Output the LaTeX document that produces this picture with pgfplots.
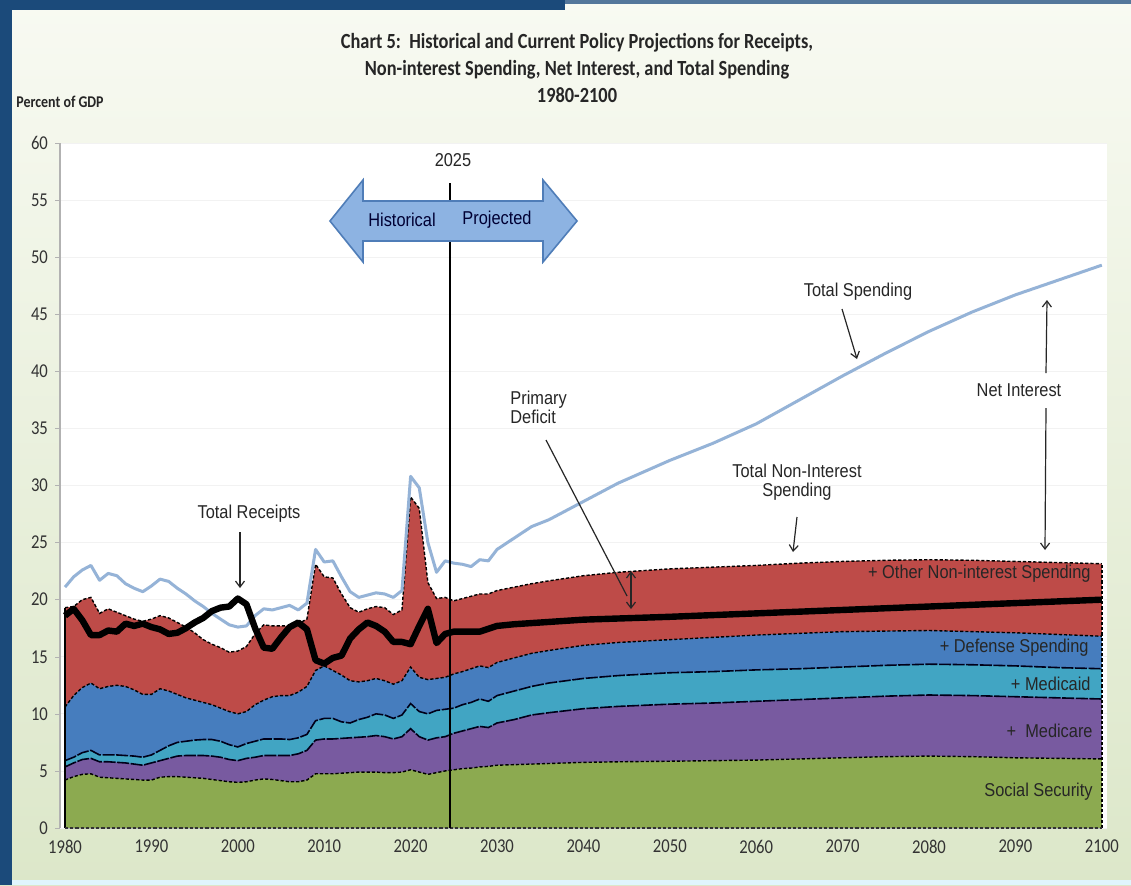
\documentclass[border=0pt]{standalone}
\usepackage{fontspec}
\setmainfont{Carlito}
\newfontfamily\calc[FakeStretch=0.85]{Carlito}
\newfontfamily\arc[FakeStretch=0.88]{Liberation Sans}
\usepackage{pgfplots}
\pgfplotsset{compat=1.18}
\usepackage{pgfplotstable}
\usetikzlibrary{arrows.meta}

\definecolor{cgreen}{HTML}{8CAA50}
\definecolor{cpurple}{HTML}{785AA0}
\definecolor{ccyan}{HTML}{41A5C3}
\definecolor{cblue}{HTML}{467DBE}
\definecolor{cred}{HTML}{BE4B48}
\definecolor{tsblue}{HTML}{95B3D7}
\definecolor{bgtop}{HTML}{F8FAF2}
\definecolor{bgbot}{HTML}{DCE7C9}
\definecolor{navy}{HTML}{1B4A7A}
\definecolor{arrfill}{HTML}{8DB3E2}
\definecolor{arrline}{HTML}{4F7DB8}
\definecolor{anno}{HTML}{262626}

% cumulative tops of the stacked areas, receipts, total spending (percent of GDP)
\pgfplotstableread{
year ss mc md df ot rc ts
1980 4.2 5.35 5.9 10.6 19.3 18.6 21.1
1981 4.5 5.7 6.2 11.6 19.4 19.2 22.0
1982 4.7 6.0 6.6 12.3 20.0 18.2 22.6
1983 4.75 6.1 6.8 12.7 20.2 16.9 23.0
1984 4.45 5.8 6.4 12.2 18.8 16.9 21.7
1985 4.4 5.8 6.4 12.4 19.2 17.3 22.3
1986 4.35 5.75 6.4 12.5 18.9 17.2 22.1
1987 4.3 5.7 6.35 12.4 18.6 17.9 21.4
1988 4.25 5.6 6.3 12.1 18.3 17.7 21.0
1989 4.2 5.5 6.2 11.7 18.1 17.9 20.7
1990 4.2 5.7 6.4 11.7 18.3 17.6 21.2
1991 4.45 5.9 6.8 12.2 18.6 17.4 21.8
1992 4.5 6.1 7.2 12.0 18.4 17.0 21.6
1993 4.5 6.3 7.5 11.7 18.0 17.1 21.0
1994 4.45 6.35 7.6 11.4 17.6 17.5 20.5
1995 4.4 6.35 7.7 11.2 17.1 18.0 19.9
1996 4.35 6.35 7.75 11.0 16.5 18.4 19.4
1997 4.25 6.3 7.75 10.8 16.1 19.0 18.8
1998 4.15 6.2 7.6 10.5 15.8 19.3 18.3
1999 4.05 6.0 7.3 10.2 15.4 19.4 17.8
2000 4.0 5.9 7.1 10.0 15.5 20.1 17.6
2001 4.05 6.1 7.4 10.2 15.9 19.6 17.7
2002 4.2 6.2 7.6 10.8 17.0 17.5 18.6
2003 4.3 6.35 7.8 11.2 17.8 15.8 19.2
2004 4.25 6.35 7.8 11.5 17.7 15.7 19.1
2005 4.15 6.35 7.8 11.6 17.7 16.7 19.3
2006 4.05 6.35 7.75 11.6 17.7 17.6 19.5
2007 4.05 6.5 7.9 11.9 17.9 18.0 19.1
2008 4.2 6.8 8.2 12.4 18.3 17.4 19.7
2009 4.75 7.7 9.4 13.8 23.1 14.7 24.4
2010 4.75 7.8 9.6 14.2 22.0 14.4 23.3
2011 4.75 7.8 9.6 13.8 21.9 14.9 23.4
2012 4.8 7.85 9.3 13.4 20.5 15.1 22.0
2013 4.85 7.9 9.2 12.9 19.3 16.6 20.7
2014 4.9 7.95 9.5 12.8 18.9 17.4 20.2
2015 4.9 8.0 9.7 12.9 19.2 18.0 20.4
2016 4.9 8.1 10.0 13.1 19.4 17.7 20.6
2017 4.85 8.0 9.9 12.9 19.3 17.2 20.5
2018 4.85 7.8 9.6 12.6 18.7 16.3 20.2
2019 4.9 8.0 9.9 12.9 19.1 16.3 20.8
2020 5.1 8.7 10.9 14.1 29.0 16.1 30.8
2021 4.9 8.0 10.2 13.2 28.0 17.7 29.8
2022 4.7 7.7 10.0 13.0 21.5 19.2 25.0
2023 4.85 7.9 10.3 13.1 20.1 16.2 22.4
2024 5.0 8.0 10.4 13.2 20.2 17.0 23.4
2025 5.1 8.3 10.5 13.5 19.9 17.2 23.2
2026 5.2 8.5 10.8 13.7 20.1 17.2 23.1
2027 5.25 8.7 11.0 13.95 20.3 17.2 22.9
2028 5.35 8.9 11.3 14.2 20.5 17.2 23.5
2029 5.4 8.8 11.1 14.05 20.5 17.45 23.4
2030 5.5 9.2 11.6 14.5 20.8 17.7 24.4
2032 5.55 9.5 12.0 14.9 21.1 17.85 25.4
2034 5.6 9.9 12.4 15.3 21.4 17.95 26.4
2036 5.65 10.1 12.7 15.55 21.65 18.05 27.0
2040 5.75 10.45 13.1 16.0 22.1 18.25 28.6
2044 5.8 10.65 13.35 16.25 22.4 18.35 30.2
2050 5.85 10.85 13.6 16.5 22.7 18.5 32.2
2055 5.9 10.95 13.7 16.7 22.85 18.65 33.7
2060 5.95 11.1 13.85 16.9 23.0 18.8 35.4
2065 6.05 11.25 13.95 17.05 23.2 18.95 37.5
2070 6.15 11.4 14.1 17.2 23.35 19.1 39.6
2075 6.25 11.55 14.25 17.25 23.45 19.25 41.6
2080 6.3 11.65 14.35 17.3 23.5 19.4 43.5
2085 6.25 11.6 14.3 17.2 23.45 19.55 45.2
2090 6.15 11.5 14.2 17.1 23.35 19.7 46.7
2095 6.1 11.4 14.05 16.95 23.25 19.85 48.0
2100 6.05 11.3 13.95 16.8 23.15 20.0 49.3
}\budget

\begin{document}
\begin{tikzpicture}
% background and titles, in pixel units from the top left
\begin{scope}[x=0.5pt,y=-0.5pt]
  \shade[top color=bgtop, bottom color=bgbot] (0,0) rectangle (1131,885);
  \fill[navy] (0,0) rectangle (12,885);
  \fill[navy] (0,0) rectangle (565,10);
  \fill[navy!75] (565,0) rectangle (1131,4);
  \fill[cyan!12] (12,880) rectangle (1131,885);
  \begin{scope}[font=\calc\bfseries\fontsize{10.8}{12}\selectfont, text=black!85]
    \node[anchor=base] at (577,48.5) {Chart 5:\ \ Historical and Current Policy Projections for Receipts,};
    \node[anchor=base] at (577,75.2) {Non-interest Spending, Net Interest, and Total Spending};
    \node[anchor=base] at (577,102) {1980-2100};
  \end{scope}
  \node[anchor=west, inner sep=0pt, font=\calc\bfseries\fontsize{8.2}{9}\selectfont, text=black!85] at (16,102) {Percent of GDP};
\end{scope}

\begin{axis}[
    at={(30pt,-414pt)}, anchor=south west,
    width=523.5pt, height=342.5pt, scale only axis,
    xmin=1979.42, xmax=2100.6, ymin=0, ymax=60,
    xtick={1980,1990,...,2100}, ytick={0,5,...,60},
    axis x line*=bottom, axis y line*=left,
    x axis line style={draw=none},
    y axis line style={draw=black!30, line width=0.8pt},
    xtick style={draw=none},
    ytick style={draw=black!30},
    tick align=outside, major tick length=2.5pt,
    ymajorgrids, grid style={draw=black!5},
    axis background/.style={fill=white},
    /pgf/number format/assume math mode=true,
    /pgf/number format/1000 sep={},
    tick label style={font=\calc\fontsize{9.8}{11}\selectfont, text=black!80},
]
% stacked areas (cumulative tops)
\addplot[draw=none, fill=cred] table[x=year,y=ot]{\budget} \closedcycle;
\addplot[draw=none, fill=cblue] table[x=year,y=df]{\budget} \closedcycle;
\addplot[draw=none, fill=ccyan] table[x=year,y=md]{\budget} \closedcycle;
\addplot[draw=none, fill=cpurple] table[x=year,y=mc]{\budget} \closedcycle;
\addplot[draw=none, fill=cgreen] table[x=year,y=ss]{\budget} \closedcycle;
% borders
\addplot[black, line width=0.7pt, dash pattern=on 1.6pt off 1pt] table[x=year,y=ot]{\budget};
\addplot[black, line width=0.7pt, dash pattern=on 1.6pt off 1pt] table[x=year,y=df]{\budget};
\addplot[black!90!blue, line width=0.8pt, dash pattern=on 6pt off 0.8pt] table[x=year,y=md]{\budget};
\addplot[black!90!blue, line width=0.8pt, dash pattern=on 6pt off 0.8pt] table[x=year,y=mc]{\budget};
\addplot[black, line width=0.7pt, dash pattern=on 1.6pt off 1pt] table[x=year,y=ss]{\budget};
\draw[black, line width=0.8pt] (axis cs:1980,0) -- (axis cs:1980,19.3);
\draw[black, line width=0.7pt, dash pattern=on 1.6pt off 1pt] (axis cs:2100,0) -- (axis cs:2100,23.15);
\draw[black!80, line width=0.7pt, dash pattern=on 1.6pt off 1pt] (axis cs:1980,0) -- (axis cs:2100,0);
% lines
\addplot[tsblue, line width=1.5pt, line join=round] table[x=year,y=ts]{\budget};
\addplot[black, line width=3.2pt, line join=round] table[x=year,y=rc]{\budget};
\end{axis}

% annotations, in pixel units
\begin{scope}[x=0.5pt,y=-0.5pt]
  \draw[black, line width=1.2pt] (450,183) -- (450,828);
  \draw[arrline, line width=0.8pt, fill=arrfill]
    (330,221) -- (363,180) -- (363,201) -- (543,201) -- (543,180) -- (577,221)
    -- (543,262) -- (543,241) -- (363,241) -- (363,262) -- cycle;
  \begin{scope}[font=\arc\fontsize{9.3}{11}\selectfont, text=anno]
    \node[text=black!80!blue] at (402,220) {Historical};
    \node[text=black!80!blue] at (497,220) {Projected};
    \node at (453,160) {2025};
    \node at (249,514) {Total Receipts};
    \node at (858,292) {Total Spending};
    \node[anchor=west, align=left, inner sep=0pt] at (510,407) {Primary\\[-1.5pt]Deficit};
    \node[align=center, inner sep=0pt] at (797,482) {Total Non-Interest\\[-1.5pt]Spending};
    \node at (1019,390) {Net Interest};
    \node[anchor=east, inner sep=0pt] at (1091,574) {+ Other Non-interest Spending};
    \node[anchor=east, inner sep=0pt] at (1089,648) {+ Defense Spending};
    \node[anchor=east, inner sep=0pt] at (1091,684) {+ Medicaid};
    \node[anchor=east, inner sep=0pt] at (1093,731) {+\ \ Medicare};
    \node[anchor=east, inner sep=0pt] at (1093,792) {Social Security};
  \end{scope}
  \begin{scope}[anno, line width=0.6pt, -{Straight Barb[length=3pt,width=4.5pt]}]
    \draw (240,532) -- (240,588);
    \draw (842,309) -- (857,359);
    \draw (797,517) -- (793,552);
    \draw (1046,373) -- (1047,300);
    \draw (1046,408) -- (1045,550);
    \draw[{Straight Barb[length=3pt,width=4.5pt]}-{Straight Barb[length=3pt,width=4.5pt]}] (631,571) -- (631,609);
  \end{scope}
  \draw[anno, line width=0.6pt] (546,440) -- (627,596);
\end{scope}
\pgfresetboundingbox
\path (0,0) rectangle (565.5pt,-442.5pt);
\end{tikzpicture}
\end{document}
